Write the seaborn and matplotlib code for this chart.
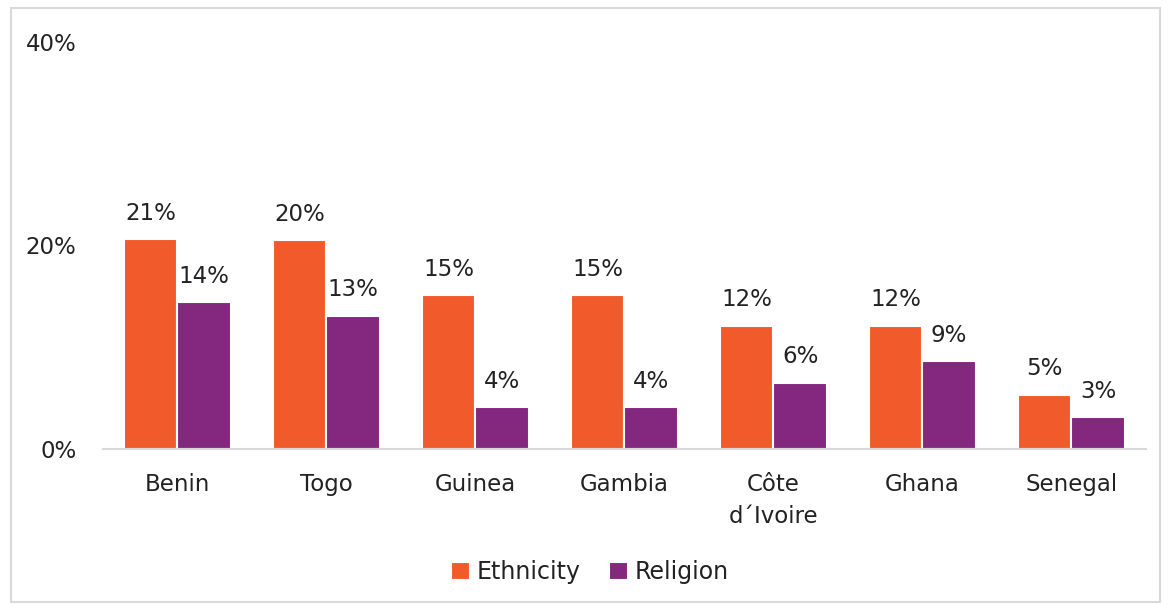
import pandas as pd
import matplotlib
matplotlib.use('Agg')
import matplotlib.pyplot as plt
import seaborn as sns
from matplotlib.patches import Rectangle
from matplotlib.ticker import FuncFormatter

# 数据
countries = ['Benin', 'Togo', 'Guinea', 'Gambia', 'Côte\nd´Ivoire', 'Ghana', 'Senegal']
ethnicity = [20.6, 20.5, 15.1, 15.1, 12.1, 12.1, 5.3]
religion = [14.4, 13.1, 4.1, 4.1, 6.5, 8.6, 3.1]
ethnicity_labels = ['21%', '20%', '15%', '15%', '12%', '12%', '5%']
religion_labels = ['14%', '13%', '4%', '4%', '6%', '9%', '3%']
series = ['Ethnicity', 'Religion']
colors = ['#F15A2B', '#84277F']

sns.set_theme(style='white')
plt.rcParams['font.family'] = ['DejaVu Sans']

df = pd.DataFrame({
    'country': countries * 2,
    'value': ethnicity + religion,
    'series': [series[0]] * len(countries) + [series[1]] * len(countries),
})

fig = plt.figure(figsize=(11.68, 6.04), dpi=100)
ax = fig.add_axes([0.088, 0.2566, 0.893, 0.674])

sns.barplot(data=df, x='country', y='value', hue='series', palette=colors,
            width=0.72, edgecolor='white', linewidth=1.5, saturation=1,
            ax=ax, legend=True)

# 数据标签
for container, labels in zip(ax.containers, [ethnicity_labels, religion_labels]):
    ax.bar_label(container, labels=labels, padding=10.5, fontsize=16.5, color='#222222')

ax.set_ylim(0, 40)
ax.set_yticks([0, 20, 40])
ax.yaxis.set_major_formatter(FuncFormatter(lambda v, p: f'{v:.0f}%'))
ax.set_xlabel('')
ax.set_ylabel('')
ax.tick_params(axis='both', length=0, labelsize=16.5, colors='#222222')
ax.tick_params(axis='y', pad=19)
ax.tick_params(axis='x', pad=17)
for s in ['top', 'right', 'left']:
    ax.spines[s].set_visible(False)
ax.spines['bottom'].set_color('#d9d9d9')
ax.spines['bottom'].set_linewidth(1.5)
ax.set_xlim(-0.5, len(countries) - 0.5)
for t in ax.get_xticklabels():
    t.set_linespacing(1.5)

handles, labels = ax.get_legend_handles_labels()
ax.legend_.remove()
fig.legend(handles, labels, loc='center', bbox_to_anchor=(0.505, 0.053), ncol=2,
           frameon=False, fontsize=17, handlelength=0.8, handleheight=0.8,
           handletextpad=0.3, columnspacing=1.2, labelcolor='#222222')

# 外边框
fig.patches.append(Rectangle((0.009, 0.004), 0.984, 0.983, transform=fig.transFigure,
                             fill=False, edgecolor='#d9d9d9', linewidth=1.5))

fig.savefig('out.png', dpi=100)
